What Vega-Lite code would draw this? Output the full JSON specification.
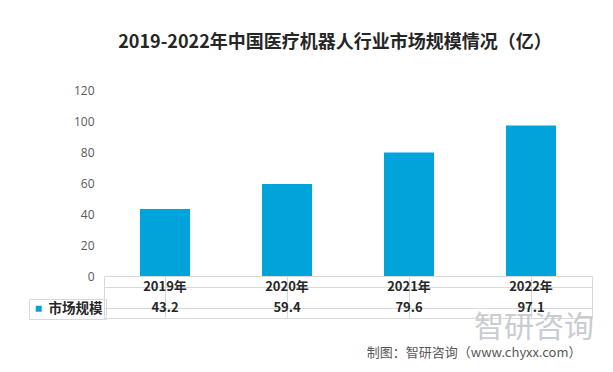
{
  "$schema": "https://vega.github.io/schema/vega-lite/v6.json",
  "padding": {"left": 28, "top": 34, "right": 10, "bottom": 5},
  "background": "white",
  "config": {"font": "Noto Sans CJK SC", "view": {"stroke": null}},
  "title": {"text": "制图：智研咨询（www.chyxx.com）", "orient": "bottom", "anchor": "end", "fontSize": 13, "fontWeight": "normal", "color": "#595959", "offset": 3, "dx": -13},
  "data": {"values": [
    {"year": "2019", "label": "2019年", "value": 43.2, "series": "市场规模"},
    {"year": "2020", "label": "2020年", "value": 59.4, "series": "市场规模"},
    {"year": "2021", "label": "2021年", "value": 79.6, "series": "市场规模"},
    {"year": "2022", "label": "2022年", "value": 97.1, "series": "市场规模"}
  ]},
  "spacing": 0,
  "bounds": "flush",
  "vconcat": [
    {
      "width": 488,
      "height": 186,
      "title": {"text": "2019-2022年中国医疗机器人行业市场规模情况（亿）", "fontSize": 18, "fontWeight": "bold", "color": "#262626", "offset": 32, "dx": -13, "anchor": "middle", "frame": "group"},
      "mark": {"type": "bar"},
      "encoding": {
        "x": {"field": "year", "type": "nominal", "sort": null, "axis": null, "scale": {"paddingInner": 0.59, "paddingOuter": 0.295}},
        "y": {"field": "value", "type": "quantitative", "scale": {"domain": [0, 120]}, "axis": {"title": null, "values": [0, 20, 40, 60, 80, 100, 120], "grid": false, "domain": false, "ticks": false, "labelFontSize": 12, "labelColor": "#595959", "labelPadding": 10, "labelFont": "Open Sans"}},
        "color": {"field": "series", "type": "nominal", "scale": {"range": ["#00A3DA"]}, "legend": {"orient": "none", "legendX": -75, "legendY": 209, "title": null, "symbolType": "square", "symbolSize": 36, "symbolStrokeWidth": 0, "labelFontSize": 13.5, "labelFontWeight": "bold", "labelColor": "#262626", "strokeColor": "#d9d9d9", "padding": 3, "labelOffset": 3}}
      }
    },
    {
      "width": 488,
      "height": 42,
      "view": {"stroke": "#d9d9d9"},
      "title": {"text": "智研咨询", "orient": "bottom", "anchor": "end", "fontSize": 30, "fontWeight": "normal", "color": "#c9ccd1", "offset": -5, "dx": 2},
      "encoding": {
        "x": {"field": "year", "type": "nominal", "sort": null, "scale": {"paddingInner": 0, "paddingOuter": 0}, "axis": {"title": null, "labels": false, "ticks": false, "domain": false, "grid": true, "gridColor": "#d9d9d9", "bandPosition": 0}}
      },
      "layer": [
        {
          "mark": {"type": "text", "fontSize": 13, "fontWeight": "bold", "color": "#262626", "baseline": "middle"},
          "encoding": {
            "y": {"datum": "年份", "type": "nominal", "scale": {"domain": ["年份", "市场规模"]}, "axis": {"title": null, "labels": false, "ticks": false, "domain": false, "grid": true, "gridColor": "#d9d9d9", "bandPosition": 0}},
            "text": {"field": "label"}
          }
        },
        {
          "mark": {"type": "text", "fontSize": 13, "fontWeight": "bold", "color": "#262626", "baseline": "middle"},
          "encoding": {
            "y": {"datum": "市场规模", "type": "nominal", "scale": {"domain": ["年份", "市场规模"]}},
            "text": {"field": "value", "format": ".1f"}
          }
        }
      ]
    }
  ]
}
